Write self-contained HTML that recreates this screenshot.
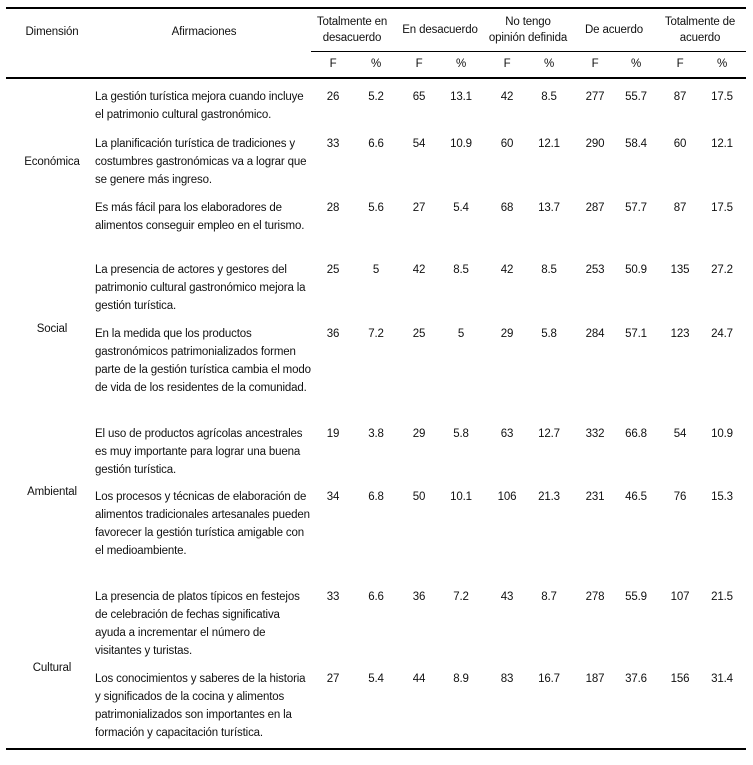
<!DOCTYPE html>
<html><head><meta charset="utf-8"><style>
body{margin:0;width:753px;height:765px;background:#fff;position:relative;font-family:"Liberation Sans",Arial,sans-serif;font-size:11.5px;color:#111;letter-spacing:-0.15px;overflow:hidden}
.t{position:absolute;white-space:nowrap;line-height:16px}
.c{transform:translateX(-50%);text-align:center}
.l{position:absolute;background:#000;height:1px}
</style></head><body>
<div class="l" style="left:6px;top:7px;width:740px;height:1.5px"></div>
<div class="l" style="left:311px;top:51px;width:435px"></div>
<div class="l" style="left:6px;top:77px;width:740px;height:1.5px"></div>
<div class="l" style="left:6px;top:748px;width:740px;height:1.5px"></div>
<div id="c"></div>
<script>
var h='';
function t(x,y,s,cen){h+='<div class="t'+(cen?' c':'')+'" style="left:'+x+'px;top:'+(y-8)+'px">'+s+'</div>';}
t(52,32,'Dimensión',1);t(204,32,'Afirmaciones',1);
t(352,22,'Totalmente en',1);t(352,38,'desacuerdo',1);
t(440,30,'En desacuerdo',1);
t(528,22,'No tengo',1);t(528,38,'opinión definida',1);
t(614,30,'De acuerdo',1);
t(700,22,'Totalmente de',1);t(700,38,'acuerdo',1);
var cols=[333,376,419,461,507,549,595,636,680,722];
for(var i=0;i<10;i++)t(cols[i],64,i%2?'%':'F',1);
t(52,162,'Económica',1);t(52,329,'Social',1);t(52,492,'Ambiental',1);t(52,668,'Cultural',1);
var rows=[
[97,['La gestión turística mejora cuando incluye','el patrimonio cultural gastronómico.'],[26,5.2,65,13.1,42,8.5,277,55.7,87,17.5]],
[144,['La planificación turística de tradiciones y','costumbres gastronómicas va a lograr que','se genere más ingreso.'],[33,6.6,54,10.9,60,12.1,290,58.4,60,12.1]],
[208,['Es más fácil para los elaboradores de','alimentos conseguir empleo en el turismo.'],[28,5.6,27,5.4,68,13.7,287,57.7,87,17.5]],
[270,['La presencia de actores y gestores del','patrimonio cultural gastronómico mejora la','gestión turística.'],[25,5,42,8.5,42,8.5,253,50.9,135,27.2]],
[334,['En la medida que los productos','gastronómicos patrimonializados formen','parte de la gestión turística cambia el modo','de vida de los residentes de la comunidad.'],[36,7.2,25,5,29,5.8,284,57.1,123,24.7]],
[434,['El uso de productos agrícolas ancestrales','es muy importante para lograr una buena','gestión turística.'],[19,3.8,29,5.8,63,12.7,332,66.8,54,10.9]],
[497,['Los procesos y técnicas de elaboración de','alimentos tradicionales artesanales pueden','favorecer la gestión turística amigable con','el medioambiente.'],[34,6.8,50,10.1,106,21.3,231,46.5,76,15.3]],
[597,['La presencia de platos típicos en festejos','de celebración de fechas significativa','ayuda a incrementar el número de','visitantes y turistas.'],[33,6.6,36,7.2,43,8.7,278,55.9,107,21.5]],
[679,['Los conocimientos y saberes de la historia','y significados de la cocina y alimentos','patrimonializados son importantes en la','formación y capacitación turística.'],[27,5.4,44,8.9,83,16.7,187,37.6,156,31.4]]];
rows.forEach(function(r){r[1].forEach(function(s,j){t(95,r[0]+j*18,s,0);});r[2].forEach(function(v,j){t(cols[j],r[0],v,1);});});
document.getElementById('c').innerHTML=h;
</script>
</body></html>
